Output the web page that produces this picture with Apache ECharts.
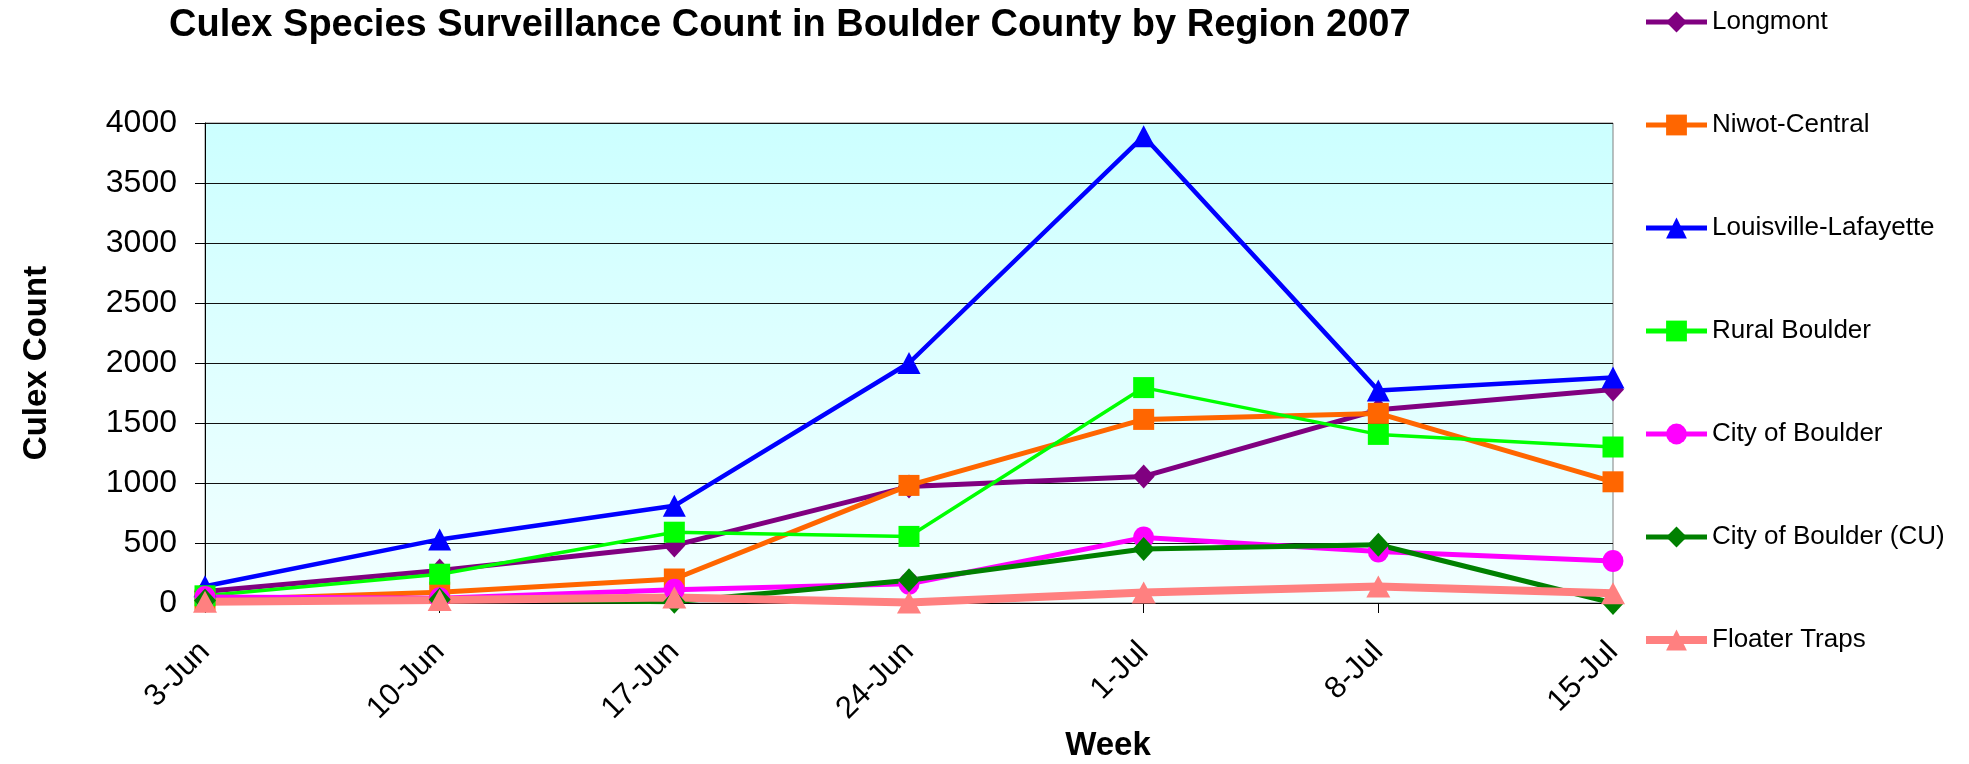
<!DOCTYPE html>
<html>
<head>
<meta charset="utf-8">
<script src="https://cdn.jsdelivr.net/npm/echarts@6/dist/echarts.min.js"></script>
<style>
html,body{margin:0;padding:0;background:#fff;}
#chart{width:1969px;height:764px;}
</style>
</head>
<body>
<div id="chart"></div>
<script>
const weeks = ['3-Jun', '10-Jun', '17-Jun', '24-Jun', '1-Jul', '8-Jul', '15-Jul'];
const yTicks = [0, 500, 1000, 1500, 2000, 2500, 3000, 3500, 4000];

const longmont = [95, 270, 480, 970, 1055, 1610, 1780];
const niwotCentral = [25, 90, 200, 980, 1530, 1580, 1010];
const louisvilleLafayette = [140, 530, 810, 2000, 3890, 1770, 1880];
const ruralBoulder = [60, 240, 590, 555, 1795, 1405, 1300];
const cityOfBoulder = [50, 40, 110, 160, 545, 430, 350];
const cityOfBoulderCU = [20, 30, 10, 190, 450, 485, 0];
const floaterTraps = [10, 25, 45, 5, 88, 138, 82];

const seriesNames = ['Longmont', 'Niwot-Central', 'Louisville-Lafayette', 'Rural Boulder', 'City of Boulder', 'City of Boulder (CU)', 'Floater Traps'];
const seriesData = [longmont, niwotCentral, louisvilleLafayette, ruralBoulder, cityOfBoulder, cityOfBoulderCU, floaterTraps];
const seriesColors = ['#800080', '#FF6600', '#0000FF', '#00FF00', '#FF00FF', '#008000', '#FF8080'];
const seriesSymbols = ['diamond', 'rect', 'triangle', 'rect', 'circle', 'diamond', 'triangle'];
const seriesSymbolSizes = [[22, 24], 21, [23, 22], 21, [21, 22], [22, 24], [24, 22]];
const seriesWidths = [5, 5, 4.5, 3.5, 5, 5, 8];

const FONT = "'Liberation Sans', Arial, sans-serif";

const chart = echarts.init(document.getElementById('chart'), null, {renderer: 'canvas'});

const series = seriesNames.map((name, i) => ({
  name: name,
  type: 'line',
  data: seriesData[i],
  symbol: seriesSymbols[i],
  symbolSize: seriesSymbolSizes[i],
  clip: false,
  color: seriesColors[i],
  itemStyle: {color: seriesColors[i]},
  lineStyle: {color: seriesColors[i], width: seriesWidths[i]},
  emphasis: {disabled: true},
  animation: false
}));

chart.setOption({
  animation: false,
  backgroundColor: '#ffffff',
  title: {
    text: 'Culex Species Surveillance Count in Boulder County by Region 2007',
    left: 169,
    top: 7,
    padding: 0,
    textStyle: {fontFamily: FONT, fontSize: 38, fontWeight: 'bold', color: '#000'}
  },
  graphic: [{
    type: 'text',
    x: 1108,
    y: 746,
    style: {
      text: 'Week',
      align: 'center',
      verticalAlign: 'middle',
      font: "bold 33px 'Liberation Sans', Arial, sans-serif",
      fill: '#000'
    }
  }],
  legend: {
    orient: 'vertical',
    left: 1642,
    top: 9,
    itemWidth: 61,
    itemHeight: 26,
    itemGap: 77,
    padding: 0,
    data: seriesNames.map((n, i) => ({name: n, lineStyle: {width: i === 6 ? 8 : 5}})),
    textStyle: {fontFamily: FONT, fontSize: 26, color: '#000', lineHeight: 26}
  },
  grid: {
    left: 205,
    right: 356,
    top: 123,
    bottom: 161,
    show: true,
    borderColor: '#808080',
    borderWidth: 1,
    backgroundColor: {
      type: 'linear', x: 0, y: 0, x2: 0, y2: 1,
      colorStops: [{offset: 0, color: '#CCFFFF'}, {offset: 1, color: '#F2FFFF'}]
    }
  },
  xAxis: {
    type: 'category',
    data: weeks,
    boundaryGap: false,
    axisLine: {lineStyle: {color: '#000', width: 1}},
    axisTick: {show: true, length: 10, lineStyle: {color: '#000'}},
    axisLabel: {
      rotate: 45,
      margin: 44,
      fontFamily: FONT,
      fontSize: 31,
      color: '#000',
      interval: 0
    },
    splitLine: {show: false}
  },
  yAxis: {
    type: 'value',
    min: yTicks[0],
    max: yTicks[yTicks.length - 1],
    interval: yTicks[1] - yTicks[0],
    name: 'Culex Count',
    nameLocation: 'middle',
    nameRotate: 90,
    nameGap: 152,
    nameTextStyle: {fontFamily: FONT, fontSize: 33, fontWeight: 'bold', color: '#000'},
    axisLine: {show: true, lineStyle: {color: '#000', width: 1}},
    axisTick: {show: true, length: 10, lineStyle: {color: '#000'}},
    axisLabel: {margin: 28, fontFamily: FONT, fontSize: 32, color: '#000', formatter: v => String(v)},
    splitLine: {show: true, lineStyle: {color: '#111', width: 1}}
  },
  series: series
});
</script>
</body>
</html>
